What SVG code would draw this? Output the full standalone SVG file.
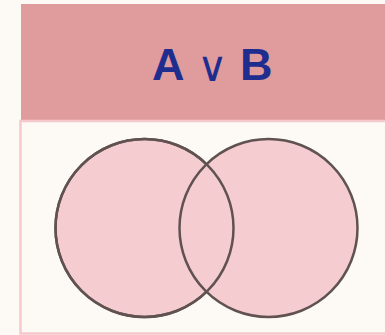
<svg xmlns="http://www.w3.org/2000/svg" width="385" height="335" viewBox="0 0 385 335">
<style>
.set{fill:#f5cccf;stroke:#615252;stroke-width:2.5}
.title{font-family:"Liberation Sans",Arial,sans-serif;font-weight:bold;fill:#1f2d8f}
</style>
<rect x="0" y="0" width="385" height="335" fill="#fdf9f5"/>
<g id="header">
<rect x="21" y="4" width="370" height="116" fill="#e09c9c"/>
<text class="title" y="80" font-size="45"><tspan x="152">A</tspan><tspan x="197" y="81" font-size="42" font-weight="normal">∨</tspan><tspan x="240" y="80">B</tspan></text>
</g>
<g id="panel">
<rect x="20.5" y="121" width="380" height="212.5" fill="#fdf9f5" stroke="#f5c8cc" stroke-width="2.5"/>
</g>
<g id="setA"><circle class="set" cx="144.5" cy="228" r="89"/></g>
<g id="setB"><circle class="set" cx="268.5" cy="228" r="89"/></g>
<g id="setA-outline"><circle cx="144.5" cy="228" r="89" fill="none" stroke="#615252" stroke-width="2.5"/></g>
<g id="connectors"></g>
</svg>
